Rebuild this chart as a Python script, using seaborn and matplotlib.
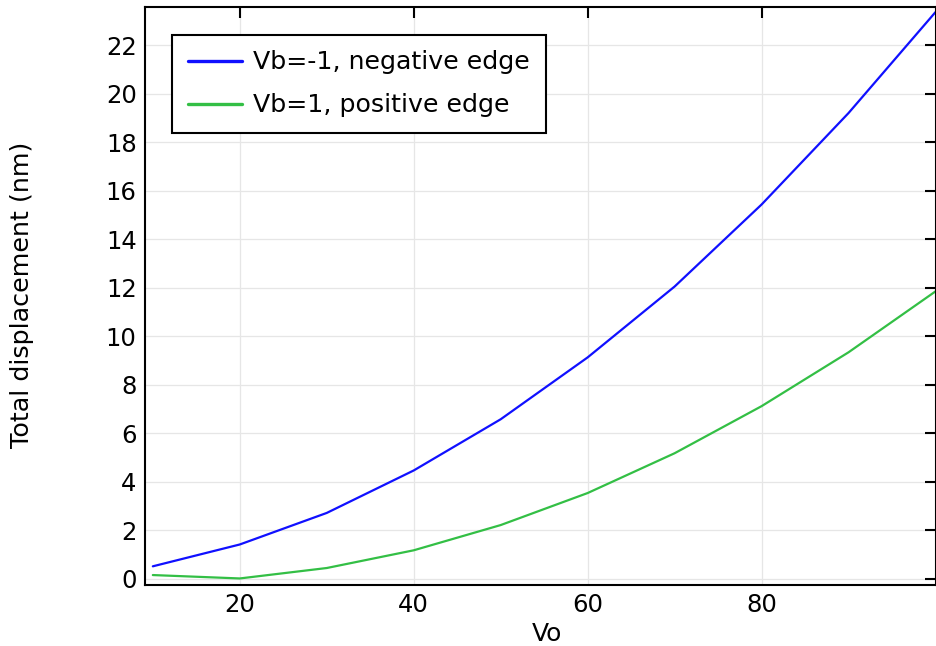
import numpy as np
import pandas as pd
import matplotlib
matplotlib.use("Agg")
import matplotlib.pyplot as plt
import seaborn as sns

vo = [10, 20, 30, 40, 50, 60, 70, 80, 90, 100]
neg_edge = [0.52, 1.42, 2.72, 4.47, 6.58, 9.13, 12.05, 15.43, 19.2, 23.36]
pos_edge = [0.16, 0.02, 0.45, 1.18, 2.22, 3.54, 5.18, 7.12, 9.34, 11.85]
labels = ["Vb=-1, negative edge", "Vb=1, positive edge"]
colors = ["#1010ff", "#33bf45"]

df = pd.DataFrame({
    "Vo": vo + vo,
    "disp": neg_edge + pos_edge,
    "series": [labels[0]] * len(vo) + [labels[1]] * len(vo),
})

sns.set_style("white")
plt.rcParams['font.family'] = ['DejaVu Sans']
plt.rcParams['text.color'] = 'black'
plt.rcParams['axes.labelcolor'] = 'black'

fig = plt.figure(figsize=(9.36, 6.46), dpi=100)
ax = fig.add_axes([145/936, 1 - 585/646, (935.5 - 145)/936, (585 - 7)/646])

sns.lineplot(data=df, x="Vo", y="disp", hue="series", palette=colors,
             hue_order=labels, ax=ax, linewidth=1.6, legend=True)

ax.set_xlim(9.1, 100)
ax.set_ylim(-0.25, 23.57)
ax.set_xticks([20, 40, 60, 80])
ax.set_yticks(np.arange(0, 23, 2))
ax.grid(True, color="#e6e6e6", linewidth=0.9)
ax.set_axisbelow(True)
for s in ax.spines.values():
    s.set_color("black")
    s.set_linewidth(1.5)
    s.set_visible(True)
ax.tick_params(direction="in", length=8, width=1.5, top=True, right=True,
               labelsize=17.5, colors="black", pad=6)
ax.set_xlabel("Vo", fontsize=18, va="top")
ax.xaxis.set_label_coords(0.5085, -0.064)
ax.set_ylabel("Total displacement (nm)", fontsize=18.3)
ax.yaxis.set_label_coords(-0.140, 0.502)

leg = ax.legend(loc="upper left", bbox_to_anchor=(0.034, 0.952), fontsize=18.2,
                frameon=True, fancybox=False, edgecolor="black",
                handlelength=2.15, borderpad=0.62, labelspacing=0.75,
                handletextpad=0.45, borderaxespad=0)
leg.get_frame().set_linewidth(1.5)
leg.get_frame().set_alpha(1)
for line in leg.get_lines():
    line.set_linewidth(2.4)

fig.savefig("out.png", dpi=100)
